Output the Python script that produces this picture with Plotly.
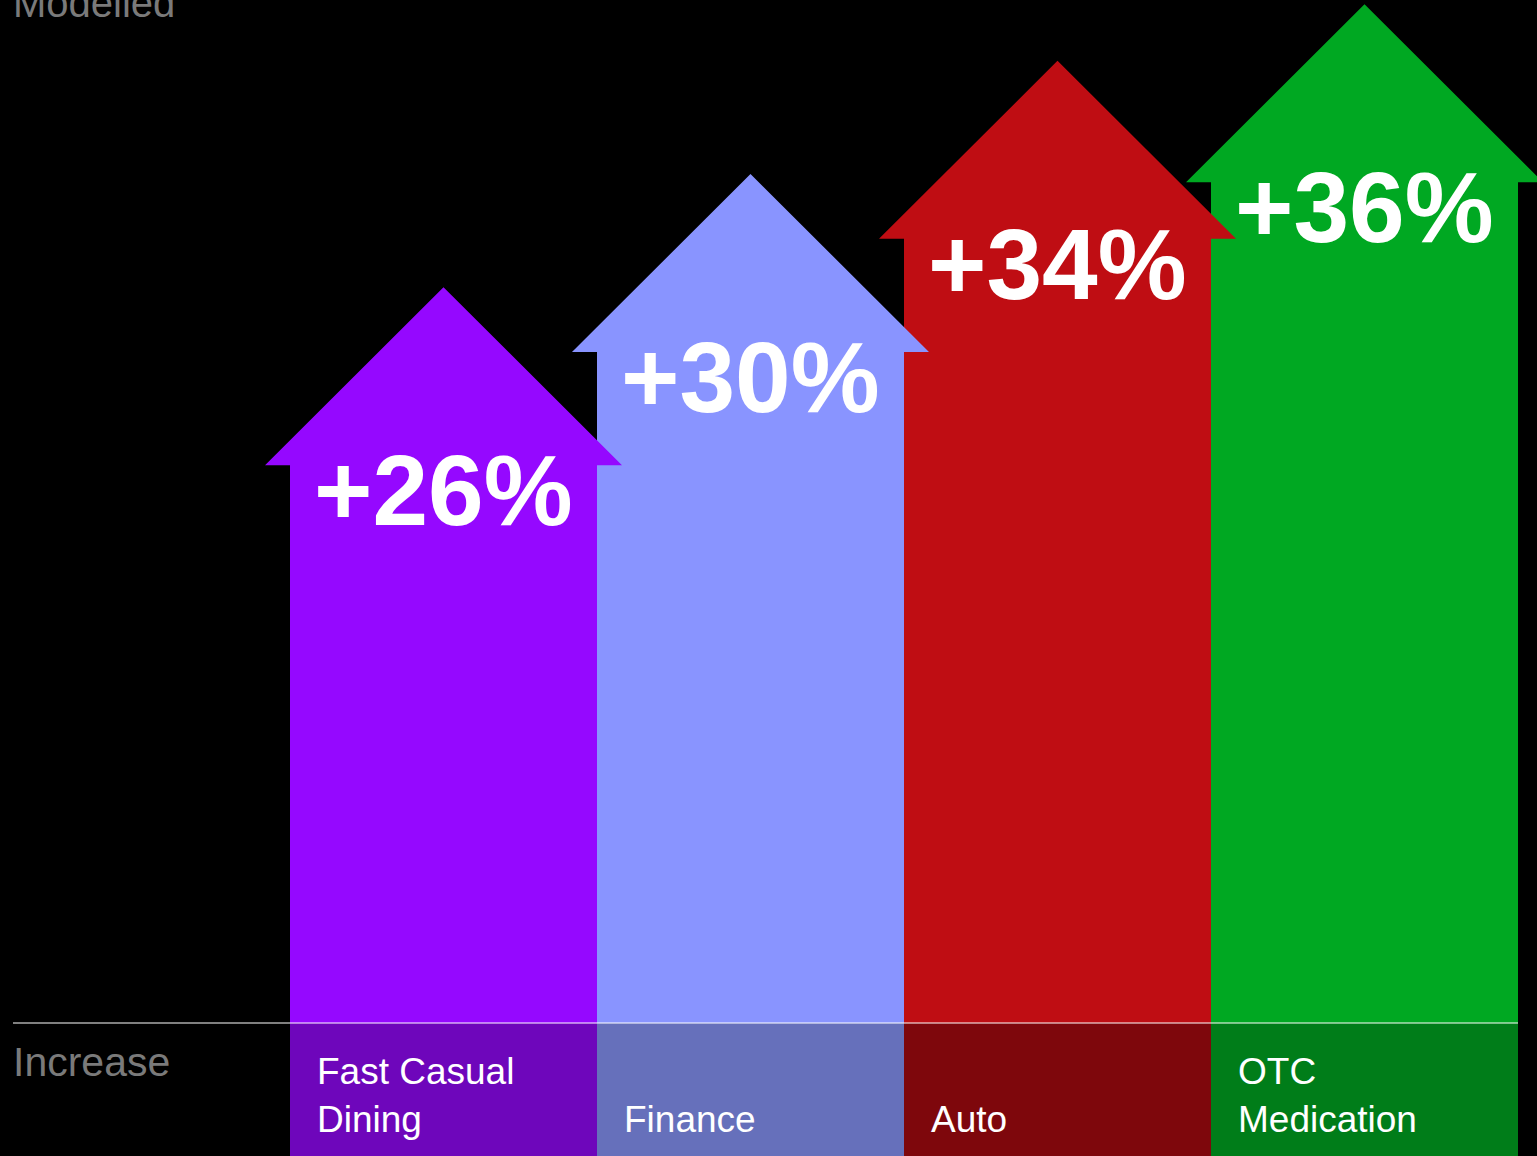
import plotly.graph_objects as go

categories = ["Fast Casual<br>Dining", "Finance", "Auto", "OTC<br>Medication"]
values = [26, 30, 34, 36]
value_labels = ["+26%", "+30%", "+34%", "+36%"]
colors = ["#9508FF", "#8994FF", "#BF0D13", "#00A822"]
dark_colors = ["#6E06BB", "#6670BB", "#7E070C", "#007D19"]

W, H = 1537, 1156
PX_PER_UNIT_Y = 28.3      # pixels per percentage point
PX_PER_CAT = 307.0        # pixels per category slot
ZERO_PX = 1023            # pixel row of the zero line
X0_PX = 443.5             # pixel column of first category centre

HEAD_H = 178 / PX_PER_UNIT_Y
OVER = 25 / PX_PER_CAT
HALF = 0.5

y_top = ZERO_PX / PX_PER_UNIT_Y
y_bot = -(H - ZERO_PX) / PX_PER_UNIT_Y
x_left = -X0_PX / PX_PER_CAT
x_right = (W - X0_PX) / PX_PER_CAT

fig = go.Figure()

# dark label band under the zero line
fig.add_trace(go.Bar(
    x=list(range(len(values))), y=[y_bot - 1] * len(values), base=0,
    width=1.0, marker=dict(color=dark_colors, line=dict(width=0)),
    hoverinfo="skip", showlegend=False))

# arrows, drawn right-to-left so left arrow heads overlap neighbours
for i in reversed(range(len(values))):
    v = values[i]
    hb = v - HEAD_H
    xs = [i - HALF, i - HALF, i - HALF - OVER, i, i + HALF + OVER, i + HALF, i + HALF, i - HALF]
    ys = [0, hb, hb, v, hb, hb, 0, 0]
    fig.add_trace(go.Scatter(
        x=xs, y=ys, mode="lines", fill="toself", fillcolor=colors[i],
        line=dict(width=0, color=colors[i]), hoverinfo="skip", showlegend=False))

# value labels
for i, v in enumerate(values):
    fig.add_annotation(
        x=i, y=v - HEAD_H - 25 / PX_PER_UNIT_Y, text=f"<b>{value_labels[i]}</b>",
        showarrow=False, xanchor="center", yanchor="middle",
        font=dict(family="Liberation Sans, Arial, sans-serif", size=100, color="white"))

# category labels
for i, c in enumerate(categories):
    fig.add_annotation(
        x=i - HALF + 25 / PX_PER_CAT, y=-(1142 - ZERO_PX) / PX_PER_UNIT_Y,
        text=c, showarrow=False, xanchor="left", yanchor="bottom", align="left",
        font=dict(family="Liberation Sans, Arial, sans-serif", size=37, color="white"))

# axis words
fig.add_annotation(
    x=11 / W, xref="paper", y=(ZERO_PX - 3) / PX_PER_UNIT_Y, text="Modelled",
    showarrow=False, xanchor="left", yanchor="middle",
    font=dict(family="Liberation Sans, Arial, sans-serif", size=40, color="#7A7A7A"))
fig.add_annotation(
    x=11 / W, xref="paper", y=-(1062 - ZERO_PX) / PX_PER_UNIT_Y, text="Increase",
    showarrow=False, xanchor="left", yanchor="middle",
    font=dict(family="Liberation Sans, Arial, sans-serif", size=41, color="#7A7A7A"))

# zero line
fig.add_shape(type="line", x0=(13 - X0_PX) / PX_PER_CAT, x1=len(values) - 1 + HALF,
              y0=0, y1=0, line=dict(color="rgba(255,255,255,0.5)", width=2), layer="above")

fig.update_layout(
    width=W, height=H, margin=dict(l=0, r=0, t=0, b=0),
    paper_bgcolor="black", plot_bgcolor="black", bargap=0,
    xaxis=dict(range=[x_left, x_right], visible=False, fixedrange=True),
    yaxis=dict(range=[y_bot, y_top], visible=False, fixedrange=True),
    showlegend=False)

fig.write_html("out.html", config={"displayModeBar": False},
               post_script="document.body.style.margin='0';document.body.style.background='black';")
